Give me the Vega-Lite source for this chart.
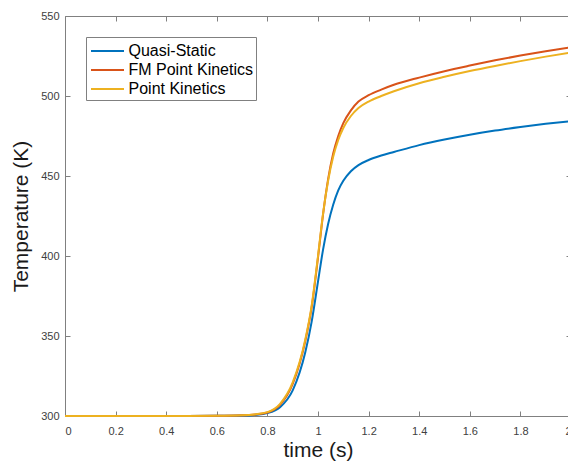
{
  "$schema": "https://vega.github.io/schema/vega-lite/v6.json",
  "width": 506,
  "height": 400,
  "autosize": {"type": "none"},
  "padding": {"left": 65, "top": 16, "right": 0, "bottom": 47},
  "background": "white",
  "config": {
    "view": {"stroke": null},
    "axis": {
      "grid": false,
      "domainColor": "#808080",
      "domainWidth": 1,
      "tickColor": "#808080",
      "tickSize": -5,
      "labelColor": "#404040",
      "labelFont": "Liberation Sans",
      "labelFontSize": 11,
      "titleFont": "Liberation Sans",
      "titleFontSize": 21,
      "titleFontWeight": "normal",
      "titleColor": "#1a1a1a"
    }
  },
  "data": {
    "values": [
      {"t": 0, "T": 300, "series": "Quasi-Static"},
      {"t": 0.2, "T": 300, "series": "Quasi-Static"},
      {"t": 0.4, "T": 300, "series": "Quasi-Static"},
      {"t": 0.6, "T": 300.1, "series": "Quasi-Static"},
      {"t": 0.7, "T": 300.3, "series": "Quasi-Static"},
      {"t": 0.75, "T": 300.7, "series": "Quasi-Static"},
      {"t": 0.8, "T": 301.8, "series": "Quasi-Static"},
      {"t": 0.85, "T": 305.5, "series": "Quasi-Static"},
      {"t": 0.9, "T": 316, "series": "Quasi-Static"},
      {"t": 0.95, "T": 340, "series": "Quasi-Static"},
      {"t": 0.975, "T": 359, "series": "Quasi-Static"},
      {"t": 1.0, "T": 384, "series": "Quasi-Static"},
      {"t": 1.02, "T": 404, "series": "Quasi-Static"},
      {"t": 1.04, "T": 420, "series": "Quasi-Static"},
      {"t": 1.06, "T": 432, "series": "Quasi-Static"},
      {"t": 1.08, "T": 441, "series": "Quasi-Static"},
      {"t": 1.1, "T": 447, "series": "Quasi-Static"},
      {"t": 1.13, "T": 453, "series": "Quasi-Static"},
      {"t": 1.16, "T": 456.8, "series": "Quasi-Static"},
      {"t": 1.2, "T": 460, "series": "Quasi-Static"},
      {"t": 1.25, "T": 462.8, "series": "Quasi-Static"},
      {"t": 1.3, "T": 465, "series": "Quasi-Static"},
      {"t": 1.4, "T": 469.3, "series": "Quasi-Static"},
      {"t": 1.5, "T": 472.8, "series": "Quasi-Static"},
      {"t": 1.6, "T": 475.8, "series": "Quasi-Static"},
      {"t": 1.7, "T": 478.4, "series": "Quasi-Static"},
      {"t": 1.8, "T": 480.6, "series": "Quasi-Static"},
      {"t": 1.9, "T": 482.6, "series": "Quasi-Static"},
      {"t": 2.0, "T": 484.3, "series": "Quasi-Static"},

      {"t": 0, "T": 300, "series": "FM Point Kinetics"},
      {"t": 0.2, "T": 300, "series": "FM Point Kinetics"},
      {"t": 0.4, "T": 300, "series": "FM Point Kinetics"},
      {"t": 0.6, "T": 300.1, "series": "FM Point Kinetics"},
      {"t": 0.7, "T": 300.4, "series": "FM Point Kinetics"},
      {"t": 0.75, "T": 300.9, "series": "FM Point Kinetics"},
      {"t": 0.8, "T": 302.2, "series": "FM Point Kinetics"},
      {"t": 0.85, "T": 307, "series": "FM Point Kinetics"},
      {"t": 0.9, "T": 320, "series": "FM Point Kinetics"},
      {"t": 0.95, "T": 347, "series": "FM Point Kinetics"},
      {"t": 0.975, "T": 368, "series": "FM Point Kinetics"},
      {"t": 1.0, "T": 399, "series": "FM Point Kinetics"},
      {"t": 1.02, "T": 426, "series": "FM Point Kinetics"},
      {"t": 1.04, "T": 448, "series": "FM Point Kinetics"},
      {"t": 1.06, "T": 464, "series": "FM Point Kinetics"},
      {"t": 1.08, "T": 475, "series": "FM Point Kinetics"},
      {"t": 1.1, "T": 483, "series": "FM Point Kinetics"},
      {"t": 1.13, "T": 491, "series": "FM Point Kinetics"},
      {"t": 1.16, "T": 496.5, "series": "FM Point Kinetics"},
      {"t": 1.2, "T": 500.5, "series": "FM Point Kinetics"},
      {"t": 1.25, "T": 504, "series": "FM Point Kinetics"},
      {"t": 1.3, "T": 507, "series": "FM Point Kinetics"},
      {"t": 1.4, "T": 511.5, "series": "FM Point Kinetics"},
      {"t": 1.5, "T": 515.5, "series": "FM Point Kinetics"},
      {"t": 1.6, "T": 519, "series": "FM Point Kinetics"},
      {"t": 1.7, "T": 522.3, "series": "FM Point Kinetics"},
      {"t": 1.8, "T": 525.3, "series": "FM Point Kinetics"},
      {"t": 1.9, "T": 528, "series": "FM Point Kinetics"},
      {"t": 2.0, "T": 530.5, "series": "FM Point Kinetics"},

      {"t": 0, "T": 300, "series": "Point Kinetics"},
      {"t": 0.2, "T": 300, "series": "Point Kinetics"},
      {"t": 0.4, "T": 300, "series": "Point Kinetics"},
      {"t": 0.6, "T": 300.1, "series": "Point Kinetics"},
      {"t": 0.7, "T": 300.4, "series": "Point Kinetics"},
      {"t": 0.75, "T": 301, "series": "Point Kinetics"},
      {"t": 0.8, "T": 302.4, "series": "Point Kinetics"},
      {"t": 0.85, "T": 307.6, "series": "Point Kinetics"},
      {"t": 0.9, "T": 321, "series": "Point Kinetics"},
      {"t": 0.95, "T": 348, "series": "Point Kinetics"},
      {"t": 0.975, "T": 369, "series": "Point Kinetics"},
      {"t": 1.0, "T": 400, "series": "Point Kinetics"},
      {"t": 1.02, "T": 426.5, "series": "Point Kinetics"},
      {"t": 1.04, "T": 447, "series": "Point Kinetics"},
      {"t": 1.06, "T": 462, "series": "Point Kinetics"},
      {"t": 1.08, "T": 472.5, "series": "Point Kinetics"},
      {"t": 1.1, "T": 480, "series": "Point Kinetics"},
      {"t": 1.13, "T": 487.5, "series": "Point Kinetics"},
      {"t": 1.16, "T": 492.5, "series": "Point Kinetics"},
      {"t": 1.2, "T": 496.5, "series": "Point Kinetics"},
      {"t": 1.25, "T": 500, "series": "Point Kinetics"},
      {"t": 1.3, "T": 503, "series": "Point Kinetics"},
      {"t": 1.4, "T": 508, "series": "Point Kinetics"},
      {"t": 1.5, "T": 512, "series": "Point Kinetics"},
      {"t": 1.6, "T": 515.6, "series": "Point Kinetics"},
      {"t": 1.7, "T": 518.8, "series": "Point Kinetics"},
      {"t": 1.8, "T": 521.8, "series": "Point Kinetics"},
      {"t": 1.9, "T": 524.6, "series": "Point Kinetics"},
      {"t": 2.0, "T": 527.2, "series": "Point Kinetics"}
    ]
  },
  "layer": [
    {
      "mark": {"type": "line", "strokeWidth": 2, "interpolate": "monotone"},
      "encoding": {
        "x": {
          "field": "t", "type": "quantitative",
          "scale": {"domain": [0, 2], "nice": false},
          "axis": {"orient": "bottom", "title": "time (s)", "values": [0, 0.2, 0.4, 0.6, 0.8, 1, 1.2, 1.4, 1.6, 1.8, 2], "format": "~g", "labelPadding": 14, "titlePadding": 3}
        },
        "y": {
          "field": "T", "type": "quantitative",
          "scale": {"domain": [300, 550], "nice": false, "zero": false},
          "axis": {"orient": "left", "title": "Temperature (K)", "values": [300, 350, 400, 450, 500, 550], "labelPadding": 11, "titlePadding": 9}
        },
        "color": {
          "field": "series", "type": "nominal", "sort": null,
          "scale": {"domain": ["Quasi-Static", "FM Point Kinetics", "Point Kinetics"], "range": ["#0072BD", "#D95319", "#EDB120"]},
          "legend": {
            "title": null,
            "orient": "none",
            "legendX": 21,
            "legendY": 21,
            "strokeColor": "#808080",
            "fillColor": "white",
            "padding": 3,
            "rowPadding": 0,
            "symbolType": "M-1.65,0H1.65",
            "symbolSize": 400,
            "symbolStrokeWidth": 2,
            "symbolOffset": 7.5,
            "labelOffset": 10,
            "labelFont": "Liberation Sans",
            "labelFontSize": 16,
            "labelColor": "#000000"
          }
        }
      }
    },
    {
      "mark": {"type": "line", "opacity": 0},
      "encoding": {
        "x": {
          "field": "t", "type": "quantitative",
          "axis": {"orient": "top", "title": null, "labels": false, "values": [0, 0.2, 0.4, 0.6, 0.8, 1, 1.2, 1.4, 1.6, 1.8, 2]}
        },
        "y": {
          "field": "T", "type": "quantitative",
          "axis": {"orient": "right", "title": null, "labels": false, "values": [300, 350, 400, 450, 500, 550]}
        },
        "detail": {"field": "series"}
      }
    }
  ],
  "resolve": {"axis": {"x": "independent", "y": "independent"}}
}
